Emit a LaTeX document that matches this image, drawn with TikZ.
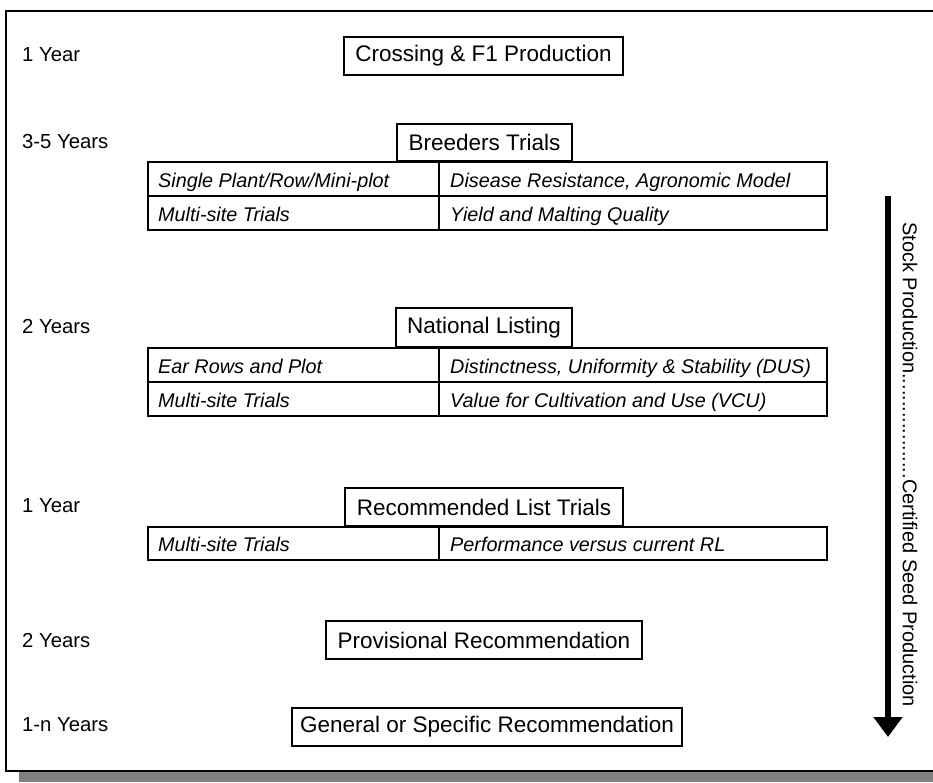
\documentclass[tikz,border=0pt]{standalone}
\usepackage{fontspec}
\setmainfont{Liberation Sans}
\usetikzlibrary{arrows.meta}
\begin{document}
\begin{tikzpicture}[x=1pt,y=-1pt,
  stage/.style={draw,line width=1.2pt,inner sep=0pt,font=\fontsize{22.5}{26}\selectfont,fill=white},
  cellL/.style={draw,line width=1.5pt,anchor=north west,inner sep=0pt,minimum width=291pt,minimum height=34pt},
  cellR/.style={draw,line width=1.5pt,anchor=north west,inner sep=0pt,minimum width=388pt,minimum height=34pt},
  ctext/.style={anchor=base west,inner sep=0pt,font=\fontsize{19.8}{24}\selectfont\itshape},
  yrs/.style={anchor=west,inner sep=0pt,font=\fontsize{20.3}{24}\selectfont},
]
\useasboundingbox (0,0) rectangle (933,782);
% shadow and frame
\fill[black!50] (19,772) rectangle (945,782);
\draw[line width=2.5pt,fill=white] (6,11) rectangle (940,771);

% year labels
\node[yrs] (y1) at (22,55) {1 Year};
\node[yrs] (y2) at (22,142) {3-5 Years};
\node[yrs] (y3) at (22,327) {2 Years};
\node[yrs] (y4) at (22,506) {1 Year};
\node[yrs] (y5) at (22,640) {2 Years};
\node[yrs] (y6) at (22,725) {1-n Years};

% stage 1
\node[stage,minimum width=279pt,minimum height=38pt] (cross) at (483.5,56) {Crossing \& F1 Production};

% breeders trials
\node[cellL] (b11) at (147,161) {};
\node[cellR] (b12) at (438,161) {};
\node[cellL] (b21) at (147,195) {};
\node[cellR] (b22) at (438,195) {};
\node[ctext] (tb11) at (158,187) {Single Plant/Row/Mini-plot};
\node[ctext] (tb12) at (450,187) {Disease Resistance, Agronomic Model};
\node[ctext] (tb21) at (158,221) {Multi-site Trials};
\node[ctext] (tb22) at (450,221) {Yield and Malting Quality};
\node[stage,minimum width=175pt,minimum height=37pt] (breed) at (484.5,142.5) {Breeders Trials};

% national listing
\node[cellL] (n11) at (147,347) {};
\node[cellR] (n12) at (438,347) {};
\node[cellL] (n21) at (147,381) {};
\node[cellR] (n22) at (438,381) {};
\node[ctext] (tn11) at (158,373) {Ear Rows and Plot};
\node[ctext] (tn12) at (450,373) {Distinctness, Uniformity \& Stability (DUS)};
\node[ctext] (tn21) at (158,407) {Multi-site Trials};
\node[ctext] (tn22) at (450,407) {Value for Cultivation and Use (VCU)};
\node[stage,minimum width=176pt,minimum height=39pt] (nat) at (484,327.5) {National Listing};

% recommended list
\node[cellL,minimum height=33pt] (r11) at (147,526) {};
\node[cellR,minimum height=33pt] (r12) at (438,526) {};
\node[ctext] (tr11) at (158,551) {Multi-site Trials};
\node[ctext] (tr12) at (450,551) {Performance versus current RL};
\node[stage,minimum width=278pt,minimum height=38pt] (rec) at (484,507) {Recommended List Trials};

% provisional & general
\node[stage,minimum width=316pt,minimum height=38pt] (prov) at (484,640) {Provisional Recommendation};
\node[stage,minimum width=390pt,minimum height=38pt] (gen) at (487,727) {General or Specific Recommendation};

% arrow
\coordinate (atop) at (888,196);
\coordinate (abot) at (888,737);
\draw[line width=6pt,-{Triangle[width=28pt,length=20pt]}] (atop) -- (abot);
\node[rotate=-90,anchor=west,inner sep=0pt,font=\fontsize{20}{24}\selectfont] (prodlbl) at (910,222)
  {Stock Production...................Certified Seed Production};
\end{tikzpicture}
\end{document}
